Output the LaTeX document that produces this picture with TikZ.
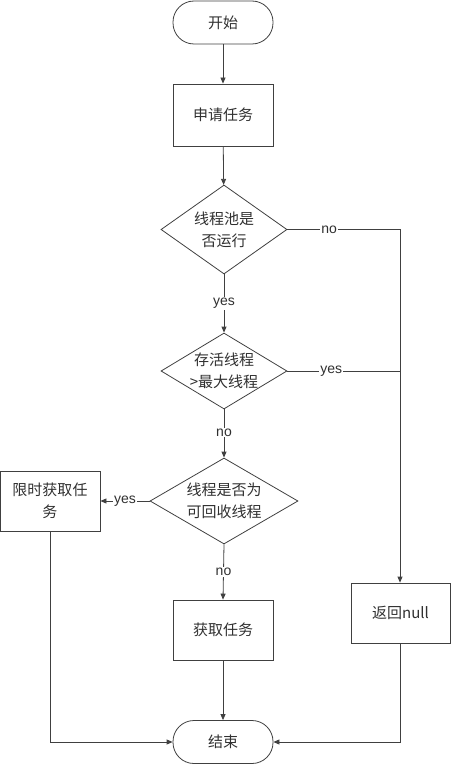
\documentclass[tikz,border=0pt]{standalone}
\usepackage{fontspec}
\setmainfont{Noto Sans CJK SC}
\newfontfamily\latinfont{Liberation Sans}
\usetikzlibrary{shapes.geometric,arrows.meta}
\definecolor{lc}{HTML}{404040}
\definecolor{tc}{HTML}{303030}
\begin{document}
\begin{tikzpicture}[x=1pt,y=-1pt,
  every node/.style={font=\fontsize{15}{22}\selectfont, text=tc},
  term/.style={draw=lc, line width=0.8pt, rounded corners=21pt, minimum width=100pt, minimum height=43pt, inner sep=0pt},
  procbox/.style={draw=lc, line width=0.8pt, minimum width=100pt, minimum height=60pt, inner sep=0pt, align=center},
  dia/.style={draw=lc, line width=0.8pt, diamond, inner sep=0pt},
  txt/.style={align=center, inner sep=0pt},
  lab/.style={fill=white, inner sep=1pt, font=\latinfont\fontsize{14}{15}\selectfont},
  conn/.style={draw=lc, line width=0.8pt},
  arr/.style={conn, -{Triangle[length=6pt,width=5pt]}}]
\useasboundingbox (0,0) rectangle (451,765);

\node[term] (start) at (223,22.5) {开始};
\node[procbox, minimum height=62pt] (apply) at (223,115) {申请任务};
\node[dia, minimum width=126pt, minimum height=89pt] (d1) at (224,229.5) {};
\node[txt] at (d1) {线程池是\\否运行};
\node[dia, minimum width=126pt, minimum height=76pt] (d2) at (224,371) {};
\node[txt] at (d2) {存活线程\\>最大线程};
\node[dia, minimum width=148pt, minimum height=86pt] (d3) at (224,501) {};
\node[txt] at (d3) {线程是否为\\可回收线程};
\node[procbox] (limit) at (50,501) {限时获取任\\务};
\node[procbox] (get) at (223,630) {获取任务};
\node[procbox, minimum width=99pt] (ret) at (400.5,613) {返回null};
\node[term] (end) at (223,742) {结束};

\coordinate (c1) at (400,229.5);
\coordinate (c2) at (400,371);
\coordinate (c3) at (50,742);
\coordinate (c4) at (400,742);

\draw[arr] (start) -- (apply);
\draw[arr] (apply) -- (d1);
\draw[arr] (d1.east) -- node[lab, pos=0.37]{no} (c1) -- (ret.north -| c1);
\draw[conn] (d2.east) -- node[lab, pos=0.39]{yes} (c2);
\draw[arr] (d1.south) -- node[lab]{yes} (d2.north);
\draw[arr] (d2.south) -- node[lab, pos=0.48]{no} (d3.north);
\draw[arr] (d3.west) -- node[lab, pos=0.5]{yes} (limit.east);
\draw[arr] (d3.south) -- node[lab, pos=0.5]{no} (get.north);
\draw[arr] (get) -- (end);
\draw[arr] (limit.south) -- (c3) -- (end.west);
\draw[arr] (ret.south -| c4) -- (c4) -- (end.east);
\end{tikzpicture}
\end{document}
